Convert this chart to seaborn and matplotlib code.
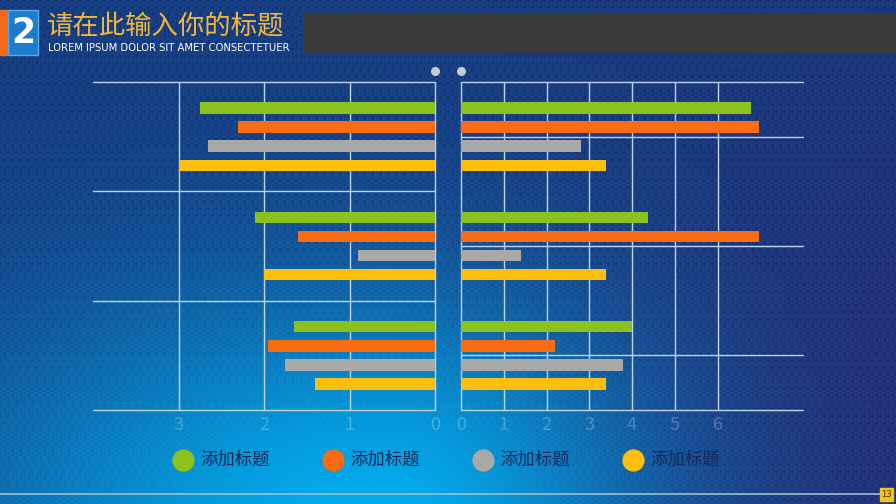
import numpy as np
import pandas as pd
import matplotlib
matplotlib.use('Agg')
import matplotlib.pyplot as plt
import seaborn as sns
from matplotlib.patches import Rectangle
from matplotlib.lines import Line2D

# ---------------- data ----------------
categories = ['类别一', '类别二', '类别三']
series = ['系列1', '系列2', '系列3', '系列4']
legend_labels = ['添加标题', '添加标题', '添加标题', '添加标题']
colors = ['#8cc21d', '#f86c14', '#a9a9a9', '#fdbf0c']

left_s1 = [2.75, 2.1, 1.65]
left_s2 = [2.3, 1.6, 1.95]
left_s3 = [2.65, 0.9, 1.75]
left_s4 = [3.0, 2.0, 1.4]

right_s1 = [6.78, 4.38, 4.0]
right_s2 = [6.98, 6.98, 2.2]
right_s3 = [2.8, 1.4, 3.8]
right_s4 = [3.4, 3.4, 3.4]

left_ticks = [0, 1, 2, 3]
right_ticks = [0, 1, 2, 3, 4, 5, 6]

title = '请在此输入你的标题'
subtitle = 'LOREM IPSUM DOLOR SIT AMET CONSECTETUER'
section_no = '2'
page_no = '13'

# ---------------- style ----------------
sns.set_style('white')
plt.rcParams['font.family'] = ['Noto Sans CJK SC', 'DejaVu Sans']

W, H = 896, 504
fig = plt.figure(figsize=(W / 100, H / 100), dpi=100)

# ---------------- background ----------------
yy, xx = np.mgrid[0:H, 0:W].astype(float)
navy = np.array([16, 52, 118]) / 255
purple = np.array([30, 38, 108]) / 255
cyan = np.array([0, 168, 232]) / 255
t = np.clip((xx - 250) / 650, 0, 1)[..., None] * np.clip(yy / H + 0.3, 0, 1)[..., None]
base = navy * (1 - t) + purple * t
sx = np.where(xx < 380, 430.0, 270.0)
w = np.exp(-((xx - 380) / sx) ** 2 - ((yy - 520) / 235) ** 2)[..., None]
bg = base * (1 - w) + cyan * w

# hex dot pattern
a = 8.0
h = a * np.sqrt(3) / 2
dmin = np.full((H, W), 1e9)
r0 = np.round(yy / h)
for dr in (-1, 0, 1):
    r = r0 + dr
    off = (r % 2) * a / 2
    c = np.round((xx - off) / a)
    px = c * a + off
    py = r * h
    d = np.hypot(xx - px, yy - py)
    dmin = np.minimum(dmin, d)
ring = np.exp(-((dmin - 2.9) / 0.9) ** 2)
bg = np.clip(bg + (0.08 * ring * (1 - 0.6 * w[..., 0]))[..., None] * np.array([0.6, 0.8, 1.0]), 0, 1)

axbg = fig.add_axes([0, 0, 1, 1], zorder=-10)
axbg.imshow(bg, extent=[0, W, H, 0], aspect='auto', interpolation='bilinear')
axbg.set_xlim(0, W)
axbg.set_ylim(H, 0)
axbg.axis('off')

# ---------------- data frames ----------------
def long_df(vals):
    rows = []
    for s, v in zip(series, vals):
        for c, x in zip(categories, v):
            rows.append({'category': c, 'series': s, 'value': x})
    return pd.DataFrame(rows)

df_left = long_df([left_s1, left_s2, left_s3, left_s4])
df_right = long_df([right_s1, right_s2, right_s3, right_s4])

grid_col = '#c0d4ec'
tick_col = (1, 1, 1, 0.25)

axL = fig.add_axes([93 / W, 1 - 410 / H, (435 - 93) / W, 328 / H])
axR = fig.add_axes([461 / W, 1 - 410 / H, (803 - 461) / W, 328 / H])

for ax, df in ((axL, df_left), (axR, df_right)):
    sns.barplot(data=df, y='category', x='value', hue='series', orient='h',
                palette=colors, width=0.7, gap=0.4, saturation=1,
                linewidth=0, legend=False, ax=ax, zorder=3)
    ax.set_facecolor('none')
    ax.set_ylim(2.5, -0.5)
    for sp in ax.spines.values():
        sp.set_visible(False)
    ax.set_xlabel('')
    ax.set_ylabel('')
    ax.set_yticks([])
    ax.tick_params(axis='x', length=0, labelsize=13, labelcolor=tick_col, pad=4)

# left chart: reversed axis
axL.set_xlim(4, 0)
axL.set_xticks(left_ticks)
axL.set_xticklabels([str(v) for v in left_ticks])
for v in left_ticks:
    axL.axvline(v, color=grid_col, lw=1, zorder=1, clip_on=False)
for yv in (-0.5, 0.5, 1.5, 2.5):
    axL.axhline(yv, color=grid_col, lw=1, zorder=1, clip_on=False)

# right chart
axR.set_xlim(0, 8)
axR.set_xticks(right_ticks)
axR.set_xticklabels([str(v) for v in right_ticks])
for v in right_ticks:
    axR.axvline(v, color=grid_col, lw=1, zorder=1, clip_on=False)
for yv in (-0.5, 0, 1, 2, 2.5):
    axR.axhline(yv, color=grid_col, lw=1, zorder=1, clip_on=False)

# small dots above the axes
for xpix in (435, 461):
    fig.add_artist(Line2D([xpix / W], [1 - 71 / H], marker='o', ms=5.5,
                          color='#c5cbd3', transform=fig.transFigure))

# ---------------- legend ----------------
for i, (lab, col) in enumerate(zip(legend_labels, colors)):
    cx = 183 + 150 * i
    fig.add_artist(Line2D([cx / W], [1 - 460 / H], marker='o', ms=16,
                          color=col, mec='none', transform=fig.transFigure))
    fig.text((cx + 17) / W, 1 - 460 / H, lab, fontsize=12.5, color='#15295a',
             ha='left', va='center')

# ---------------- header ----------------
fig.add_artist(Rectangle((0, 1 - 55 / H), 7 / W, 45 / H, color='#f26a1b',
                         transform=fig.transFigure))
fig.add_artist(Rectangle((8 / W, 1 - 55 / H), 30 / W, 45 / H, facecolor='#1e7ccc',
                         edgecolor='#5aa8e6', lw=1, transform=fig.transFigure))
fig.text(23 / W, 1 - 33 / H, section_no, fontsize=25, fontweight='bold',
         color='white', ha='center', va='center', family='DejaVu Sans')
fig.add_artist(Rectangle((303 / W, 1 - 52 / H), (W - 303) / W, 38 / H,
                         color='#3a3a3b', transform=fig.transFigure))
fig.text(47 / W, 1 - 26 / H, title, fontsize=19, color='#f3b73a',
         ha='left', va='center')
fig.text(48 / W, 1 - 48 / H, subtitle, fontsize=8, color='white',
         ha='left', va='center', family='DejaVu Sans', fontstretch='condensed')

# ---------------- footer ----------------
fig.add_artist(Line2D([0, 880 / W], [1 - 494 / H, 1 - 494 / H], lw=1.2,
                      color='#9cc0cc', transform=fig.transFigure))
fig.add_artist(Rectangle((880 / W, 1 - 501 / H), 13 / W, 13 / H,
                         color='#f5c21a', transform=fig.transFigure))
fig.text(886.5 / W, 1 - 494.5 / H, page_no, fontsize=6, color='#3a3000',
         ha='center', va='center', family='DejaVu Sans')

fig.savefig('out.png', dpi=100)
